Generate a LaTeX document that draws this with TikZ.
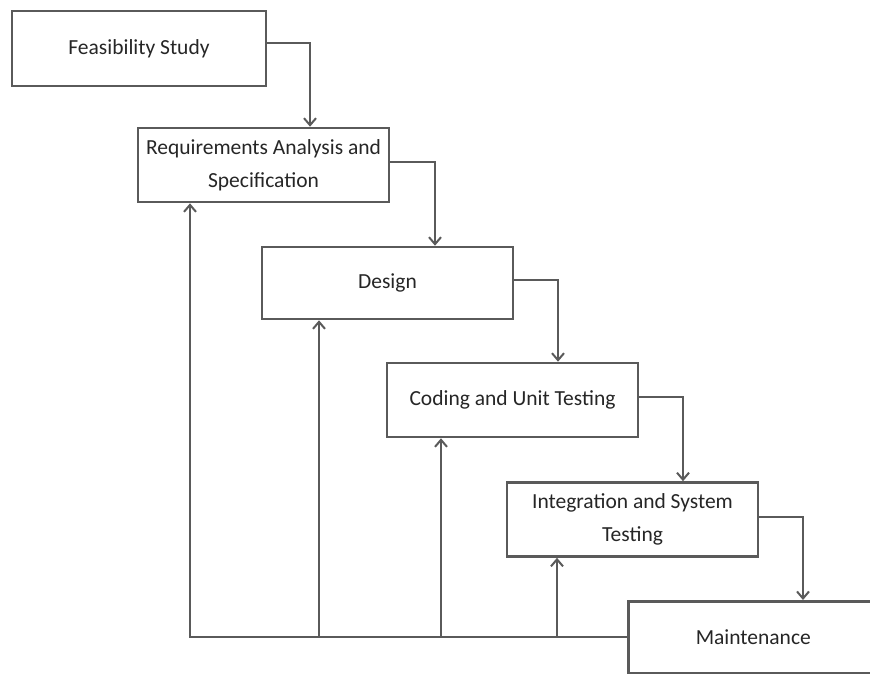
\documentclass[tikz,border=0pt]{standalone}
\usepackage{fontspec}
\setmainfont{Carlito}
\usetikzlibrary{arrows.meta}
\definecolor{ln}{HTML}{5A5A5A}
\definecolor{tx}{HTML}{262626}
\begin{document}
\begin{tikzpicture}[x=1pt,y=-1pt,
  box/.style={draw=ln, line width=2.6pt, fill=white, inner sep=0pt, text=tx,
    font=\fontsize{21.5}{33}\selectfont, align=center},
  link/.style={draw=ln, line width=2.3pt},
  flow/.style={link, -{Straight Barb[length=7pt,width=12pt,line width=2pt]}},
]
\clip (0,0) rectangle (870,673);
\fill[white] (0,0) rectangle (870,673);

\node[box, minimum width=254pt, minimum height=75pt] (fs) at (139,48.5) {Feasibility Study};
\node[box, minimum width=251pt, minimum height=74pt] (rq) at (263.5,165) {Requirements Analysis and\\Specification};
\node[box, minimum width=251pt, minimum height=72pt] (ds) at (387.5,283) {Design};
\node[box, minimum width=251pt, minimum height=74pt] (cu) at (512.5,400) {Coding and Unit Testing};
\node[box, minimum width=251pt, minimum height=74pt] (is) at (632.5,519.5) {Integration and System\\Testing};
\node[box, minimum width=250pt, minimum height=72pt, anchor=north west] (mt) at (627,600) {Maintenance};

% drop columns
\coordinate (x2) at (310,0);
\coordinate (x3) at (435,0);
\coordinate (x4) at (558,0);
\coordinate (x5) at (683,0);
\coordinate (x6) at (803,0);

\draw[flow] ([yshift=5.5pt]fs.east) -| (rq.north -| x2);
\draw[flow] ([yshift=3pt]rq.east) -| (ds.north -| x3);
\draw[flow] ([yshift=3pt]ds.east) -| (cu.north -| x4);
\draw[flow] ([yshift=3pt]cu.east) -| (is.north -| x5);
\draw[flow] ([yshift=2.5pt]is.east) -| (mt.north -| x6);

% feedback
\coordinate (b1) at (190,637);
\coordinate (b2) at (319,637);
\coordinate (b3) at (441,637);
\coordinate (b4) at (557,637);
\draw[flow] (mt.west |- b1) -- (b1) -- (b1 |- rq.south);
\draw[flow] (b2) -- (b2 |- ds.south);
\draw[flow] (b3) -- (b3 |- cu.south);
\draw[flow] (b4) -- (b4 |- is.south);
\end{tikzpicture}
\end{document}
